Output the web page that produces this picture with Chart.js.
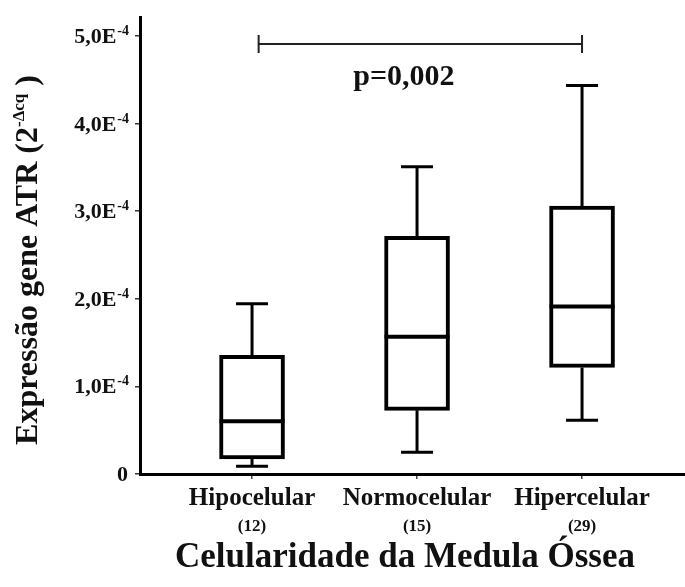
<!DOCTYPE html>
<html lang="pt">
<head>
<meta charset="utf-8">
<title>Expressão gene ATR</title>
<script src="https://cdn.jsdelivr.net/npm/chart.js@4/dist/chart.umd.min.js"></script>
<style>
  html, body { margin: 0; padding: 0; background: #fff; }
  #wrap { width: 685px; height: 587px; }
  canvas { display: block; }
</style>
</head>
<body>
<div id="wrap"><canvas id="chart" width="685" height="587"></canvas></div>
<script>
  // categories and group sizes
  const categories = ['Hipocelular', 'Normocelular', 'Hipercelular'];
  const sampleSizes = ['(12)', '(15)', '(29)'];
  const xTitle = 'Celularidade da Medula Óssea';

  // box plot values (2^-Δcq)
  const whiskerLow = [0.089e-4, 0.249e-4, 0.613e-4];
  const q1 = [0.171e-4, 0.727e-4, 1.217e-4];
  const medians = [0.602e-4, 1.567e-4, 1.912e-4];
  const q3 = [1.354e-4, 2.714e-4, 3.059e-4];
  const whiskerHigh = [1.943e-4, 3.507e-4, 4.435e-4];

  // y axis ticks
  const yTickValues = [0, 1e-4, 2e-4, 3e-4, 4e-4, 5e-4];
  const yTickLabels = ['0', '1,0E', '2,0E', '3,0E', '4,0E', '5,0E'];
  const yTickExponents = ['', '-4', '-4', '-4', '-4', '-4'];

  // significance bracket between first and last group
  const bracketFrom = 0.04;
  const bracketTo = 2;
  const bracketValue = 4.91e-4;
  const pLabel = 'p=0,002';
  const pLabelX = 0.92;

  const SERIF = "'Liberation Serif', 'Times New Roman', serif";
  const INK = '#111';

  const boxPlotPlugin = {
    id: 'boxPlot',
    afterDatasetsDraw(chart) {
      const { ctx, scales: { x, y } } = chart;
      const capHalf = 16;
      ctx.save();
      ctx.strokeStyle = '#000';
      ctx.lineCap = 'butt';

      categories.forEach((_, i) => {
        const cx = x.getPixelForValue(i);
        const yHi = y.getPixelForValue(whiskerHigh[i]);
        const yQ3 = y.getPixelForValue(q3[i]);
        const yQ1 = y.getPixelForValue(q1[i]);
        const yLo = y.getPixelForValue(whiskerLow[i]);
        const yMed = y.getPixelForValue(medians[i]);

        ctx.lineWidth = 3;
        ctx.beginPath();
        ctx.moveTo(cx, yHi);
        ctx.lineTo(cx, yQ3);
        ctx.moveTo(cx, yQ1);
        ctx.lineTo(cx, yLo);
        ctx.moveTo(cx - capHalf, yHi);
        ctx.lineTo(cx + capHalf, yHi);
        ctx.moveTo(cx - capHalf, yLo);
        ctx.lineTo(cx + capHalf, yLo);
        ctx.stroke();

        const meta = chart.getDatasetMeta(0).data[i];
        const half = meta.width / 2;
        ctx.lineWidth = 4;
        ctx.beginPath();
        ctx.moveTo(cx - half, yMed);
        ctx.lineTo(cx + half, yMed);
        ctx.stroke();
      });

      // bracket + p value
      const bx1 = x.getPixelForValue(bracketFrom);
      const bx2 = x.getPixelForValue(bracketTo);
      const by = y.getPixelForValue(bracketValue);
      ctx.strokeStyle = '#222';
      ctx.lineWidth = 2;
      ctx.beginPath();
      ctx.moveTo(bx1, by);
      ctx.lineTo(bx2, by);
      ctx.moveTo(bx1, by - 9);
      ctx.lineTo(bx1, by + 9);
      ctx.moveTo(bx2, by - 9);
      ctx.lineTo(bx2, by + 9);
      ctx.stroke();

      ctx.fillStyle = INK;
      ctx.font = `bold 30px ${SERIF}`;
      ctx.textAlign = 'center';
      ctx.textBaseline = 'alphabetic';
      ctx.fillText(pLabel, x.getPixelForValue(pLabelX), by + 41);
      ctx.restore();
    },
    afterDraw(chart) {
      const { ctx, scales: { x, y } } = chart;
      ctx.save();
      ctx.fillStyle = INK;

      // y tick labels with superscript exponent
      const rightEdge = y.right - 12;
      yTickValues.forEach((v, i) => {
        const py = y.getPixelForValue(v);
        ctx.textBaseline = 'alphabetic';
        ctx.textAlign = 'left';
        ctx.font = `bold 14px ${SERIF}`;
        const supW = yTickExponents[i] ? ctx.measureText(yTickExponents[i]).width : 0;
        ctx.font = `bold 22px ${SERIF}`;
        const mainW = ctx.measureText(yTickLabels[i]).width;
        const start = rightEdge - supW - mainW;
        ctx.fillText(yTickLabels[i], start, py + 7);
        if (supW) {
          ctx.font = `bold 14px ${SERIF}`;
          ctx.fillText(yTickExponents[i], start + mainW + 1, py - 1);
        }
      });

      // group sizes under category names
      ctx.font = `bold 17px ${SERIF}`;
      ctx.textAlign = 'center';
      categories.forEach((_, i) => {
        ctx.fillText(sampleSizes[i], x.getPixelForValue(i), 531);
      });

      // x axis title
      ctx.font = `bold 35px ${SERIF}`;
      ctx.fillText(xTitle, 405, 567);

      // rotated y title: Expressão gene ATR (2^-Δcq )
      const parts = [
        { t: 'Expressão gene ATR (2', size: 32, rise: 0 },
        { t: '-Δcq', size: 17, rise: 13 },
        { t: ' )', size: 32, rise: 0 },
      ];
      let total = 0;
      parts.forEach((p) => {
        ctx.font = `bold ${p.size}px ${SERIF}`;
        p.w = ctx.measureText(p.t).width;
        total += p.w;
      });
      ctx.translate(37, 260);
      ctx.rotate(-Math.PI / 2);
      ctx.textAlign = 'left';
      ctx.textBaseline = 'alphabetic';
      let cur = -total / 2;
      parts.forEach((p) => {
        ctx.font = `bold ${p.size}px ${SERIF}`;
        ctx.fillText(p.t, cur, -p.rise);
        cur += p.w;
      });
      ctx.restore();
    },
  };

  new Chart(document.getElementById('chart'), {
    type: 'bar',
    data: {
      datasets: [{
        data: categories.map((_, i) => ({ x: i, y: [q1[i], q3[i]] })),
        backgroundColor: '#fff',
        borderColor: '#000',
        borderWidth: 4,
        borderSkipped: false,
        barThickness: 65,
      }],
    },
    options: {
      responsive: false,
      animation: false,
      layout: { padding: { top: 17, right: 0, left: 0, bottom: 0 } },
      plugins: { legend: { display: false }, tooltip: { enabled: false } },
      scales: {
        x: {
          type: 'linear',
          offset: false,
          min: -0.679,
          max: 2.624,
          afterBuildTicks: (scale) => { scale.ticks = categories.map((_, i) => ({ value: i })); },
          afterFit: (scale) => { scale.height = 113; },
          border: { display: true, color: '#000', width: 3 },
          grid: { display: true, offset: false, drawOnChartArea: false, drawTicks: true, tickLength: 5, color: '#444', lineWidth: 1.5 },
          ticks: {
            autoSkip: false,
            maxRotation: 0,
            padding: 5,
            color: INK,
            font: { family: SERIF, size: 25, weight: 'bold' },
            callback: (v) => categories[Math.round(v)],
          },
          title: { display: false },
        },
        y: {
          min: 0,
          max: 5.217e-4,
          afterBuildTicks: (scale) => { scale.ticks = yTickValues.map((v) => ({ value: v })); },
          afterFit: (scale) => { scale.width = 140; },
          border: { display: true, color: '#000', width: 3 },
          grid: { display: true, drawOnChartArea: false, drawTicks: true, tickLength: 5, color: '#333', lineWidth: 1.5 },
          ticks: { display: false },
        },
      },
    },
    plugins: [boxPlotPlugin],
  });
</script>
</body>
</html>
